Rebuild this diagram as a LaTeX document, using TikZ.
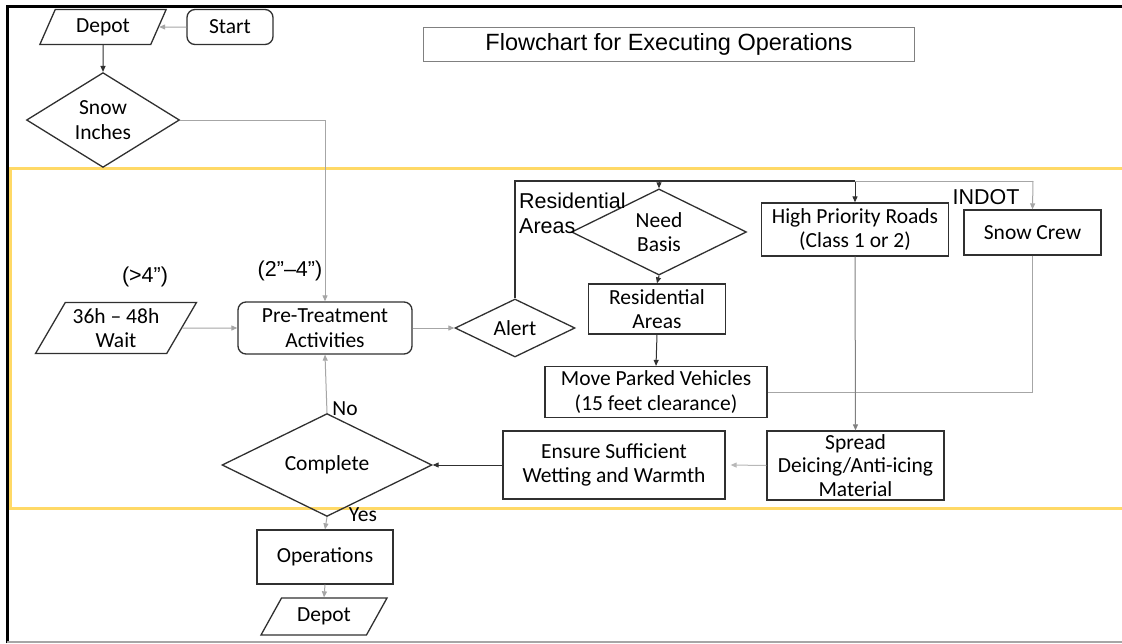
\documentclass[tikz,border=0pt]{standalone}
\usepackage{fontspec}
\setmainfont{Carlito}
\newfontfamily\arialf{Liberation Sans}
\usetikzlibrary{shapes.geometric,arrows.meta}
\definecolor{bandyellow}{HTML}{FFD966}
\definecolor{lgray}{HTML}{A6A6A6}
\definecolor{dgray}{HTML}{303030}
\tikzset{
  base/.style={draw=dgray, line width=1.3pt, inner sep=1pt, align=center, font=\fontsize{21.5}{24.5}\selectfont},
  boxn/.style={base, rectangle},
  roundn/.style={base, rectangle, rounded corners=8pt},
  dia/.style={base, diamond, inner sep=0pt},
  para/.style={base, trapezium, trapezium stretches=true},
  lbl/.style={font=\arialf\fontsize{21.5}{25}\selectfont, inner sep=0pt},
  clbl/.style={font=\fontsize{21.5}{24}\selectfont, inner sep=0pt},
  arr/.style={-{Triangle[length=6pt,width=5pt]}, line width=1pt},
  conk/.style={arr, draw=dgray},
  cong/.style={arr, draw=lgray},
  lineg/.style={line width=1pt, draw=lgray},
  linek/.style={line width=1.2pt, draw=dgray},
}
\begin{document}
\begin{tikzpicture}[x=1pt,y=-1pt]
\useasboundingbox (0,0) rectangle (1122,643);
\fill[white] (0,0) rectangle (1122,643);
% frame
\draw[line width=3pt, black] (7,643) -- (7,6) -- (1122,6);
\draw[line width=1.5pt, lgray] (7,642) -- (1122,642);
% yellow band
\draw[line width=3pt, bandyellow] (1122,168) -- (10,168) -- (10,508) -- (1122,508);

% nodes
\node[para, trapezium left angle=65, trapezium right angle=115, minimum width=127, minimum height=35] (depot1) at (103,27) {Depot};
\node[roundn, minimum width=86, minimum height=35] (start) at (230,27) {Start};
\node[dia, minimum width=153, minimum height=87] (snow) at (103,120) {Snow\\Inches};
\node[boxn, draw=gray, line width=1pt, minimum width=491, minimum height=34, font=\arialf\fontsize{23.5}{26}\selectfont] (title) at (669,44) {Flowchart for Executing Operations};

\node[para, trapezium left angle=58, trapezium right angle=122, minimum width=161, minimum height=51] (wait) at (116,328) {36h – 48h\\Wait};
\node[roundn, minimum width=174, minimum height=52] (pretreat) at (325,328) {Pre-Treatment\\Activities};
\node[dia, minimum width=120, minimum height=58] (alert) at (515,328) {Alert};
\node[dia, minimum width=175, minimum height=59] (need) at (659,232) {Need\\Basis};
\node[boxn, minimum width=137, minimum height=50] (resid) at (657,309) {Residential\\Areas};
\node[boxn, minimum width=222, minimum height=51] (move) at (656,392) {Move Parked Vehicles\\(15 feet clearance)};
\node[boxn, minimum width=187, minimum height=53] (high) at (855,229.5) {High Priority Roads\\(Class 1 or 2)};
\node[boxn, minimum width=137, minimum height=45] (crew) at (1032.5,232.5) {Snow Crew};
\node[boxn, minimum width=177, minimum height=69, font=\fontsize{21.5}{23.5}\selectfont] (spread) at (855.5,465.5) {Spread\\Deicing/Anti-icing\\Material};
\node[boxn, minimum width=222, minimum height=68] (ensure) at (614,465) {Ensure Sufficient\\Wetting and Warmth};
\node[dia, minimum width=210, minimum height=86] (complete) at (327,465) {Complete};
\node[boxn, minimum width=136, minimum height=54] (ops) at (325,557) {Operations};
\node[para, trapezium left angle=55, trapezium right angle=125, minimum width=127, minimum height=37] (depot2) at (324,616.5) {Depot};

% labels
\node[lbl] (gt4) at (145,277) {(>4”)};
\node[lbl] (r24) at (290,271) {(2”–4”)};
\node[lbl, anchor=west, align=left] (reslbl) at (519,213) {Residential\\Areas};
\node[lbl] (indot) at (986,197) {INDOT};
\node[clbl] (nol) at (345,409) {No};
\node[clbl] (yesl) at (363,515) {Yes};

% connectors
\draw[cong] (start.west) -- (depot1);
\draw[conk] (depot1.south) -- (snow.north);
\coordinate (sbend) at (325,120);
\draw[lineg] (snow.east) -- (sbend);
\draw[cong] (sbend) -- (pretreat.north);
\draw[cong] (wait) -- (pretreat);
\draw[cong] (pretreat) -- (alert);
\coordinate (bus1) at (515,181);
\coordinate (bus2) at (659,181);
\coordinate (bus3) at (855,181);
\coordinate (bus4) at (1033,181);
\draw[linek] (alert.north) -- (bus1) -- (bus3);
\draw[conk] (bus2) -- (need.north);
\draw[conk] (bus3) -- (high.north);
\draw[lineg] (bus3) -- (bus4);
\draw[cong] (bus4) -- (crew.north);
\draw[conk] (need.south) -- (resid.north);
\draw[conk] (resid.south) -- (move.north);
\draw[lineg] (crew.south) |- (move.east);
\draw[arr, draw=gray] (high.south) -- (spread.north);
\draw[cong, draw=lgray!80] (spread.west) -- ([xshift=5]ensure.east);
\draw[conk] (ensure.west) -- (complete.east);
\draw[cong] (complete.north) -- (pretreat.south);
\draw[cong] (complete.south) -- (ops.north);
\draw[cong] (ops.south) -- (depot2.north);
\end{tikzpicture}
\end{document}
